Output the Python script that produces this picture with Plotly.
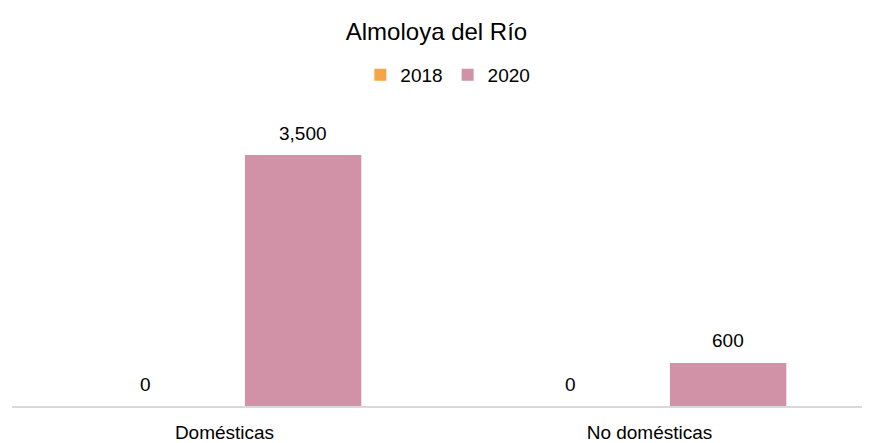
import plotly.graph_objects as go

# 데이터
categories = ['Domésticas', 'No domésticas']
years = ['2018', '2020']
values_2018 = [0, 0]
values_2020 = [3500, 600]
colors = ['#F5A545', '#D192A7']

series = [values_2018, values_2020]
offsets = [-0.185, 0.185]

# 페이지 여백(8px) 만큼 줄인 크기
W, H = 864, 435

fig = go.Figure()
for name, vals, color in zip(years, series, colors):
    fig.add_trace(go.Bar(
        x=categories,
        y=vals,
        name=name,
        marker=dict(color=color, line=dict(width=0)),
    ))

# 데이터 라벨
for vals, off in zip(series, offsets):
    for i, v in enumerate(vals):
        fig.add_annotation(
            x=i + off, y=v, xref='x', yref='y',
            text=f'{v:,}', showarrow=False,
            yshift=22,
            font=dict(size=19, color='#000000'),
        )

fig.update_layout(
    width=W, height=H,
    paper_bgcolor='white', plot_bgcolor='white',
    font=dict(family='Liberation Sans, Arial, sans-serif', color='#000000'),
    title=dict(text='Almoloya del Río', x=428.5 / W, xanchor='center', xref='container',
               y=1 - 24 / H, yanchor='middle',
               font=dict(size=24, color='#000000')),
    legend=dict(orientation='h', x=443 / W, xanchor='center',
                y=1 - 67 / H, yanchor='middle', yref='container',
                font=dict(size=19), itemwidth=30, traceorder='normal'),
    barmode='group',
    bargap=0.26, bargroupgap=0.26,
    margin=dict(l=4, r=10, t=92, b=37, autoexpand=False),
    showlegend=True,
)
fig.update_xaxes(
    showline=True, linecolor='#D9D9D9', linewidth=1.5,
    ticks='outside', ticklen=8, tickcolor='rgba(0,0,0,0)',
    tickfont=dict(size=19, color='#000000'),
    showgrid=False, automargin=False,
)
fig.update_yaxes(visible=False, range=[0, 4267], automargin=False)

fig.write_html('out.html')
